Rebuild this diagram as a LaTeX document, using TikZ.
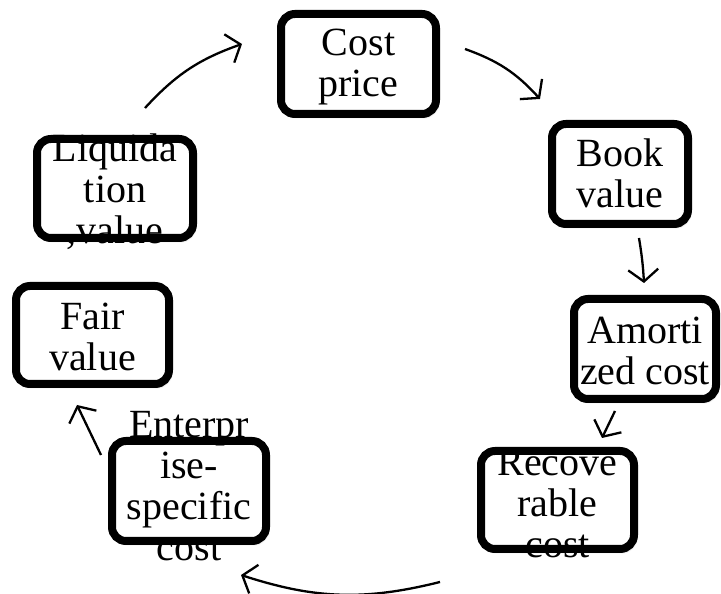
\documentclass[tikz,border=0pt]{standalone}
\usepackage{fontspec}
\setmainfont{Liberation Serif}
\usetikzlibrary{arrows.meta,calc,shadows.blur}

\tikzset{
  valuebox/.style={draw=black, line width=8pt, rounded corners=14pt, fill=white,
    minimum width=155pt, minimum height=100pt, inner sep=0pt,
    blur shadow={shadow xshift=2pt, shadow yshift=-3pt, shadow opacity=35, shadow blur steps=6}},
  boxtext/.style={align=center, font=\fontsize{40}{41}\selectfont, inner sep=0pt},
  flow/.style={line width=2.3pt, -{Straight Barb[length=12pt,width=30pt,line width=2.3pt]}}
}

\begin{document}
\begin{tikzpicture}[x=1pt,y=1pt]
  \useasboundingbox (0,0) rectangle (721,594);

  % the seven measures of value, arranged in a ring
  \node[valuebox] (cost)  at (358.5,530) {};
  \node[valuebox, minimum width=136pt] (book) at (620,420) {};
  \node[valuebox, minimum width=142pt] (amort) at (645,245) {};
  \node[valuebox, minimum width=153pt, minimum height=98pt] (recov) at (557.5,94) {};
  \node[valuebox, minimum width=154pt] (ent)   at (189,103) {};
  \node[valuebox, minimum width=153pt, minimum height=98pt] (fair)  at (92.5,259) {};
  \node[valuebox, minimum width=156pt, minimum height=99pt] (liq)   at (115,405.5) {};

  % labels, set on top of the frames
  \node[boxtext] (costT)  at ($(cost)+(0,-3)$)  {Cost\\price};
  \node[boxtext] (bookT)  at ($(book)+(0,1)$)   {Book\\value};
  \node[boxtext] (amortT) at ($(amort)+(0,-2)$) {Amorti\\zed cost};
  \node[boxtext] (recovT) at ($(recov)+(0,-4)$) {Recove\\rable\\cost};
  \node[boxtext] (entT)   at ($(ent)+(0,5)$)    {Enterpr\\ise-\\specific\\cost};
  \node[boxtext] (fairT)  at ($(fair)+(0,-2)$)  {Fair\\value};
  \node[boxtext] (liqT)   at ($(liq)+(0,-3)$)   {Liquida\\tion\\,value};

  % arrows around the ring
  \draw[flow] ($(liq)+(30,80.5)$) to[bend left=14] ($(cost)+(-116.5,20)$);
  \draw[flow] ($(cost)+(106.5,15)$) to[bend left=14] ($(book)+(-80,75)$);
  \draw[flow] ($(book)+(19,-64)$) to[bend left=3] ($(amort)+(-1,66)$);
  \draw[flow] ($(amort)+(-30,-62)$) -- ($(recov)+(44.5,62)$);
  \draw[flow] ($(recov)+(-117.5,-82)$) to[bend left=16] ($(ent)+(52,-84)$);
  \draw[flow] ($(ent)+(-88,36)$) -- ($(fair)+(-15.5,-70)$);
\end{tikzpicture}
\end{document}
